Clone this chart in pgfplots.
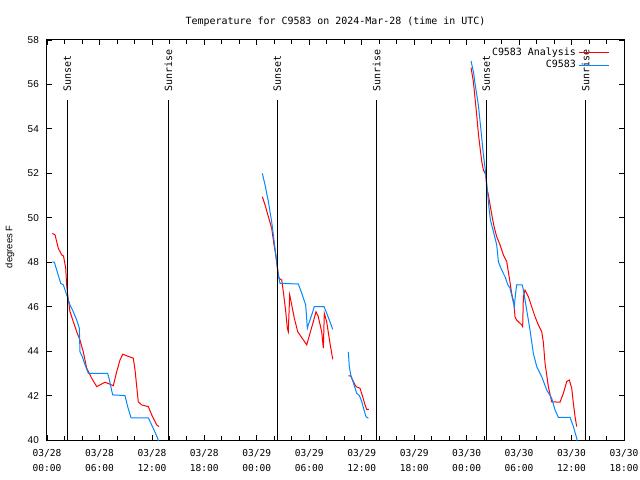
\documentclass[border=0pt]{standalone}
\usepackage{fontspec}
\usepackage{pgfplots}
\pgfplotsset{compat=1.18}
\newfontfamily\monof{DejaVu Sans Mono}
\newfontfamily\sansf{Liberation Sans}
\definecolor{anred}{RGB}{255,0,0}
\definecolor{obsblue}{RGB}{0,136,255}
\begin{document}
\begin{tikzpicture}
\path[use as bounding box] (-47bp,-40bp) rectangle (593bp,440bp);
\begin{axis}[
  at={(0,0)}, anchor=south west,
  scale only axis, width=577bp, height=400bp,
  xmin=0, xmax=66, ymin=40, ymax=58,
  xtick={0,6,...,66},
  xticklabels={{03/28\\00:00},{03/28\\06:00},{03/28\\12:00},{03/28\\18:00},{03/29\\00:00},{03/29\\06:00},{03/29\\12:00},{03/29\\18:00},{03/30\\00:00},{03/30\\06:00},{03/30\\12:00},{03/30\\18:00}},
  minor xtick={0,2,...,66},
  ytick={40,42,...,58},
  tick align=inside,
  major tick length=5bp, minor tick length=4bp,
  xticklabel style={font=\fontsize{9.6}{15}\monof, align=center, inner sep=0pt, yshift=-9bp},
  yticklabel style={font=\fontsize{10}{12}\sansf, inner sep=0pt, xshift=-8bp},
  /pgf/number format/assume math mode=true,
  axis line style={line width=1bp},
  every tick/.style={black, line width=0.8bp},
  title={Temperature for C9583 on 2024-Mar-28 (time in UTC)},
  title style={font=\fontsize{10}{12}\monof, at={(0.5,1)}, anchor=center, yshift=12bp},
  ylabel={degrees F},
  ylabel style={font=\fontsize{9.5}{12}\sansf, at={(axis description cs:-0.0641,0.483)}, anchor=center},
  unbounded coords=jump,
  legend style={draw=none, fill=none, at={(axis description cs:0.9757,0.9838)}, anchor=north east, inner sep=0pt, outer sep=0pt, font=\fontsize{10}{12}\monof, row sep=2bp, nodes={inner xsep=3bp, inner ysep=1bp}},
  legend cell align=right, legend plot pos=right,
  legend image code/.code={\draw[#1, line cap=butt] (0bp,0bp) -- (30bp,0bp);},
]
\addplot[anred, line width=1bp, mark=none] coordinates {
(0.61,49.30)(0.92,49.23)(1.29,48.63)(1.68,48.33)(1.89,48.28)(2.14,47.73)(2.25,46.98)(2.37,46.53)(2.63,45.77)(3.01,45.32)(3.40,44.87)(3.77,44.50)(4.15,43.97)(4.54,43.23)(5.11,42.78)(5.69,42.40)(6.06,42.48)(6.63,42.60)(7.21,42.51)(7.58,42.44)(7.97,43.07)(8.35,43.60)(8.66,43.86)(9.12,43.79)(9.87,43.68)(10.07,43.15)(10.44,41.72)(10.83,41.58)(11.59,41.50)(11.98,41.13)(12.55,40.68)(12.81,40.60)
(18,nan)
(24.63,50.95)(24.94,50.58)(25.32,50.05)(25.70,49.53)(25.97,48.78)(26.16,48.33)(26.35,47.73)(26.54,47.28)(26.85,47.20)(27.03,46.68)(27.31,45.77)(27.49,45.03)(27.60,44.87)(27.76,46.53)(27.99,46.08)(28.29,45.48)(28.68,44.87)(29.71,44.28)(30.08,44.80)(30.46,45.32)(30.77,45.77)(31.03,45.55)(31.42,44.87)(31.61,44.13)(31.72,45.70)(31.99,45.32)(32.37,44.35)(32.68,43.63)
(33.5,nan)
(34.47,42.88)(34.74,42.88)(35.04,42.63)(35.35,42.40)(35.80,42.33)(36.11,41.95)(36.38,41.58)(36.57,41.38)(36.83,41.38)
(42,nan)
(48.50,56.76)(48.77,56.13)(48.96,55.38)(49.15,54.63)(49.34,53.80)(49.54,53.13)(49.73,52.53)(49.92,52.15)(50.19,51.93)(50.30,51.33)(50.49,51.03)(50.68,50.58)(50.95,49.98)(51.18,49.53)(51.44,49.15)(51.82,48.78)(52.20,48.33)(52.59,48.02)(52.96,47.10)(53.15,46.60)(53.41,46.15)(53.53,45.55)(53.72,45.40)(54.29,45.18)(54.41,45.10)(54.49,46.45)(54.68,46.75)(55.06,46.45)(55.44,46.0)(55.82,45.55)(56.20,45.18)(56.59,44.87)(56.77,44.42)(56.97,43.45)(57.35,42.40)(57.73,41.72)(58.68,41.70)(59.06,42.10)(59.45,42.63)(59.75,42.70)(60.02,42.33)(60.21,41.65)(60.40,41.05)(60.59,40.60)
};
\addlegendentry{C9583 Analysis}
\addplot[obsblue, line width=1bp, mark=none] coordinates {
(0.61,48.0)(0.84,48.0)(1.11,47.65)(1.57,47.05)(1.87,46.98)(2.25,46.53)(2.63,46.08)(3.01,45.77)(3.40,45.40)(3.70,45.03)(3.77,43.97)(4.04,43.75)(4.35,43.38)(4.73,43.0)(6.94,43.0)(7.09,42.78)(7.51,42.03)(8.92,42.0)(9.23,41.5)(9.61,41.0)(11.59,41.0)(12.16,40.52)(12.66,40.08)(12.9,39.7)
(18,nan)
(24.63,52.0)(24.94,51.48)(25.32,50.73)(25.70,49.82)(25.89,49.23)(26.08,48.63)(26.28,48.02)(26.46,47.43)(26.65,47.05)(28.75,47.02)(29.14,46.60)(29.59,46.08)(29.78,45.03)(29.89,45.18)(30.28,45.63)(30.58,46.0)(31.69,46.0)(32.0,45.70)(32.37,45.32)(32.68,44.98)
(33.5,nan)
(34.47,43.97)(34.58,43.30)(34.74,42.93)(35.04,42.58)(35.43,42.10)(35.73,42.0)(36.0,41.73)(36.26,41.35)(36.49,41.05)(36.76,40.98)
(42,nan)
(48.50,57.06)(48.77,56.58)(49.04,55.83)(49.34,55.08)(49.54,54.32)(49.73,53.58)(49.92,52.83)(50.11,52.23)(50.30,51.55)(50.42,51.03)(50.56,50.43)(50.72,49.90)(51.06,49.38)(51.44,48.78)(51.63,48.02)(52.01,47.65)(52.39,47.35)(52.70,47.0)(52.96,46.83)(53.15,46.53)(53.45,46.0)(53.60,46.6)(53.72,46.98)(54.36,46.98)(54.49,46.75)(54.87,45.85)(55.25,44.95)(55.63,43.90)(56.02,43.30)(56.59,42.85)(57.16,42.25)(57.73,41.88)(58.11,41.35)(58.49,41.02)(59.83,41.02)(60.21,40.60)(60.59,40.08)(60.75,39.7)
};
\addlegendentry{C9583}
\addplot[black, line width=1bp, forget plot] coordinates {(2.32,40) (2.32,55.3)};
\addplot[black, line width=1bp, forget plot] coordinates {(13.88,40) (13.88,55.3)};
\addplot[black, line width=1bp, forget plot] coordinates {(26.34,40) (26.34,55.3)};
\addplot[black, line width=1bp, forget plot] coordinates {(37.72,40) (37.72,55.3)};
\addplot[black, line width=1bp, forget plot] coordinates {(50.25,40) (50.25,55.3)};
\addplot[black, line width=1bp, forget plot] coordinates {(61.62,40) (61.62,55.3)};
\node[rotate=90, anchor=west, inner sep=0pt, font=\fontsize{10}{12}\monof] at (axis cs:2.32,55.66) {Sunset};
\node[rotate=90, anchor=west, inner sep=0pt, font=\fontsize{10}{12}\monof] at (axis cs:13.88,55.66) {Sunrise};
\node[rotate=90, anchor=west, inner sep=0pt, font=\fontsize{10}{12}\monof] at (axis cs:26.34,55.66) {Sunset};
\node[rotate=90, anchor=west, inner sep=0pt, font=\fontsize{10}{12}\monof] at (axis cs:37.72,55.66) {Sunrise};
\node[rotate=90, anchor=west, inner sep=0pt, font=\fontsize{10}{12}\monof] at (axis cs:50.25,55.66) {Sunset};
\node[rotate=90, anchor=west, inner sep=0pt, font=\fontsize{10}{12}\monof] at (axis cs:61.62,55.66) {Sunrise};
\end{axis}
\end{tikzpicture}
\end{document}
